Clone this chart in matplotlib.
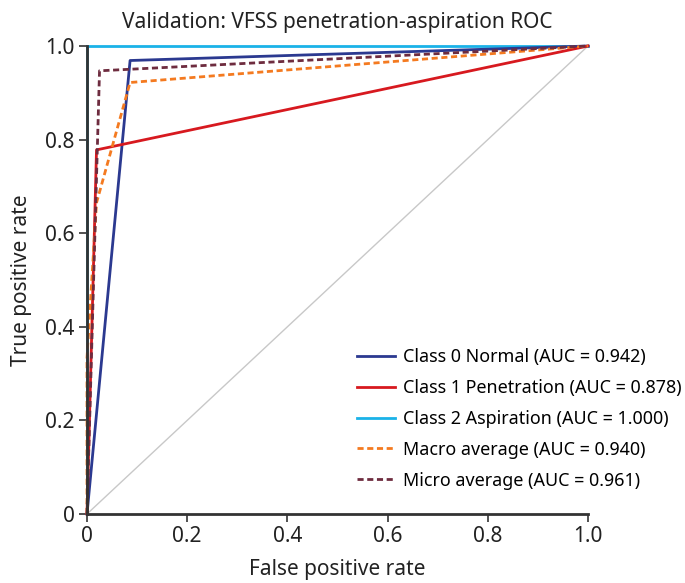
import matplotlib
matplotlib.use("Agg")
import matplotlib.pyplot as plt

plt.rcParams['font.family'] = ['Noto Sans', 'DejaVu Sans']

# ROC curve points
fpr_normal = [0.0, 0.086, 1.0]
tpr_normal = [0.0, 0.969, 1.0]
fpr_pen = [0.0, 0.019, 1.0]
tpr_pen = [0.0, 0.778, 1.0]
fpr_asp = [0.0, 0.0, 1.0]
tpr_asp = [0.0, 1.0, 1.0]
fpr_macro = [0.0, 0.0, 0.019, 0.086, 1.0]
tpr_macro = [0.0, 0.333, 0.665, 0.922, 1.0]
fpr_micro = [0.0, 0.025, 1.0]
tpr_micro = [0.0, 0.947, 1.0]

labels = ["Class 0 Normal (AUC = 0.942)",
          "Class 1 Penetration (AUC = 0.878)",
          "Class 2 Aspiration (AUC = 1.000)",
          "Macro average (AUC = 0.940)",
          "Micro average (AUC = 0.961)"]
ticks = [0, 0.2, 0.4, 0.6, 0.8, 1.0]
tick_labels = ["0", "0.2", "0.4", "0.6", "0.8", "1.0"]

fig = plt.figure(figsize=(6.85, 5.83), dpi=100)
ax = fig.add_axes([87/685, 69/583, 501/685, 468/583])

ax.plot([0, 1], [0, 1], color="#c8c8c8", lw=1.0, zorder=1)
# cyan drawn lowest so the vertical part hides under the spine
ax.plot(fpr_asp, tpr_asp, color="#1ab2e8", lw=2.0, label=labels[2], clip_on=False, zorder=2)
ax.plot(fpr_normal, tpr_normal, color="#2b3990", lw=2.0, label=labels[0], clip_on=False, zorder=3)
ax.plot(fpr_pen, tpr_pen, color="#d7191f", lw=2.0, label=labels[1], clip_on=False, zorder=3)
ax.plot(fpr_macro, tpr_macro, color="#f47a20", lw=2.0, ls=(0, (2.2, 1.3)), label=labels[3], clip_on=False, zorder=4)
ax.plot(fpr_micro, tpr_micro, color="#6e2c3f", lw=2.0, ls=(0, (2.2, 1.3)), label=labels[4], clip_on=False, zorder=4)

ax.set_xlim(0, 1)
ax.set_ylim(0, 1)
ax.set_xticks(ticks)
ax.set_xticklabels(tick_labels)
ax.set_yticks(ticks)
ax.set_yticklabels(tick_labels)
ax.spines['top'].set_visible(False)
ax.spines['right'].set_visible(False)
for s in ['left', 'bottom']:
    ax.spines[s].set_color("#333333")
    ax.spines[s].set_linewidth(2.0)
    ax.spines[s].set_zorder(5)
ax.tick_params(length=6, width=1.2, color="#333333", labelsize=15, labelcolor="#222222", pad=3)

ax.set_xlabel("False positive rate", fontsize=15, color="#222222", labelpad=8)
ax.set_ylabel("True positive rate", fontsize=15, color="#222222", labelpad=9)
ax.set_title("Validation: VFSS penetration-aspiration ROC", fontsize=15, color="#222222", pad=13)

handles, labs = ax.get_legend_handles_labels()
order = [labs.index(l) for l in labels]
ax.legend([handles[i] for i in order], [labs[i] for i in order],
          loc="lower left", bbox_to_anchor=(0.539, 0.052), frameon=False, fontsize=12.9,
          handlelength=2.1, labelspacing=0.72, handletextpad=0.46, borderaxespad=0, borderpad=0)

fig.savefig("out.png", dpi=100)
